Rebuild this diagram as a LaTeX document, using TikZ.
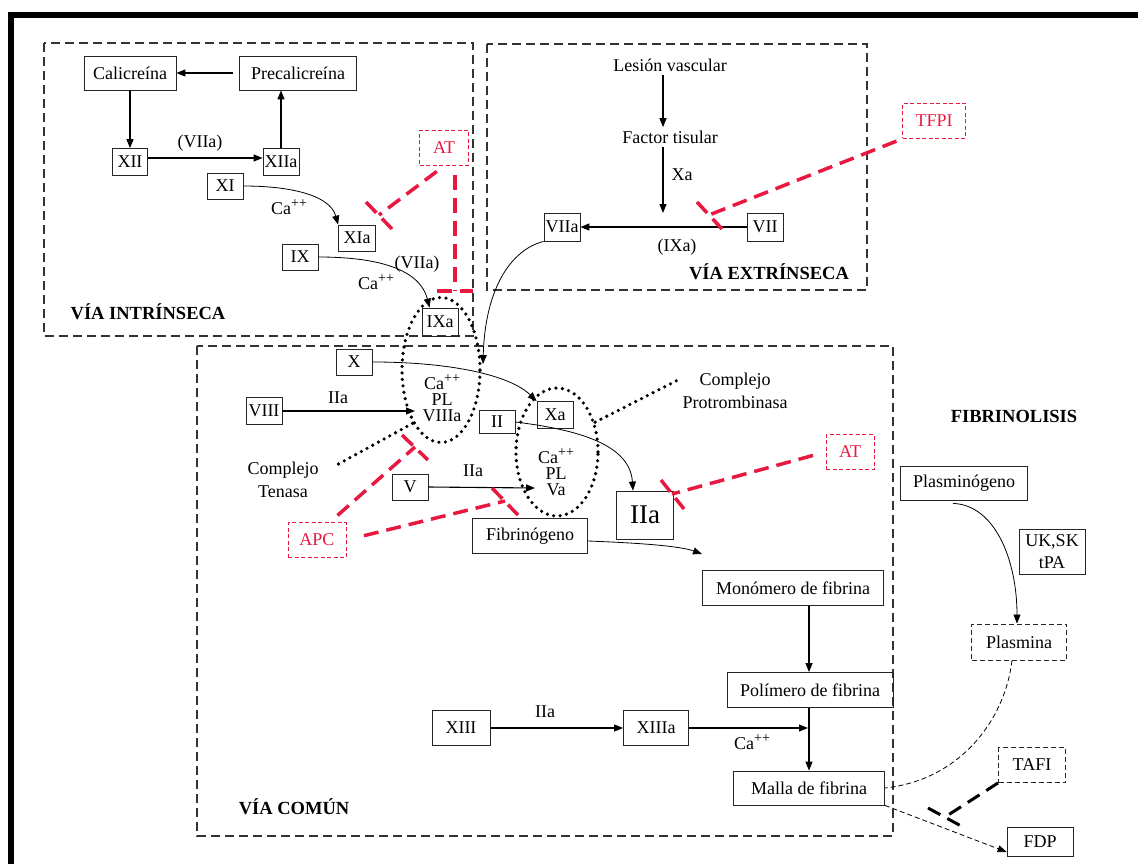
\documentclass[tikz,border=0pt]{standalone}
\usepackage{fontspec}
\setmainfont{Liberation Serif}
\usetikzlibrary{arrows.meta,shapes.geometric}
\definecolor{inhibred}{RGB}{232,24,64}
\newcommand{\calcium}{Ca\raisebox{0.42em}{\fontsize{14}{14}\selectfont ++}}

\begin{document}
\begin{tikzpicture}[
        x=1pt,
        y=-1pt,
        every node/.style={font=\fontsize{18}{23}\selectfont},
        box/.style={draw=black!85, line width=0.8pt, inner sep=0pt, minimum width=36, minimum height=26},
        redbox/.style={draw=inhibred, text=inhibred, dash pattern=on 4pt off 2.5pt, line width=0.9pt, inner sep=0pt},
        blkdash/.style={draw=black!85, dash pattern=on 5pt off 3pt, line width=0.9pt, inner sep=0pt},
        region/.style={draw=black!80, line width=1.2pt, dash pattern=on 9pt off 5pt},
        pathlabel/.style={font=\fontsize{18.5}{23}\selectfont\bfseries},
        arr/.style={-{Triangle[length=9pt,width=7pt]}, line width=1.1pt},
        carr/.style={-{Triangle[length=9pt,width=7pt]}, line width=0.8pt},
        thindash/.style={line width=0.8pt, dash pattern=on 5pt off 3pt},
        inhib/.style={draw=inhibred, line width=3.5pt, dash pattern=on 15pt off 8pt},
        tafiinhib/.style={draw=black, line width=3pt, dash pattern=on 14pt off 8pt},
        cplx/.style={draw, ellipse, line width=3.6pt, dash pattern=on 0pt off 6.5pt, line cap=round, inner sep=0pt},
        dotline/.style={line width=3.6pt, dash pattern=on 0pt off 6.5pt, line cap=round},
        stack/.style={align=center, font=\fontsize{18}{16}\selectfont}
    ]
        \useasboundingbox (0,0) rectangle (1138,864);

        % Frame
        \fill (8,12) rectangle (1138,18);
        \fill (8,12) rectangle (14,864);

        % Pathway regions
        \draw[region] (44,43) rectangle (473,336);
        \draw[region] (487,44) rectangle (867,290);
        \draw[region] (197,346) rectangle (893,836);

        % Intrinsic pathway
        \node[box, minimum width=92, minimum height=34] (cal) at (130,73) {Calicreína};
        \node[box, minimum width=117, minimum height=34] (precal) at (298,73) {Precalicreína};
        \node[box, minimum width=35, minimum height=27] (xii) at (130,162) {XII};
        \node[box, minimum height=27] (xiia) at (281,162) {XIIa};
        \node[box] (xi) at (225,186) {XI};
        \node[box, minimum width=37] (xia) at (357,238) {XIa};
        \node[box] (ix) at (300,257) {IX};
        \node[box, minimum height=28] (ixa) at (440,322) {IXa};
        \node[redbox, minimum width=49, minimum height=35] (at1) at (444,148) {AT};
        \node (viia-lbl1) at (200,143) {(VIIa)};
        \node (ca-lbl1) at (289,207) {\calcium};
        \node (viia-lbl2) at (417,264) {(VIIa)};
        \node (ca-lbl2) at (376,282) {\calcium};
        \node[pathlabel] (intr-lbl) at (148,312) {VÍA INTRÍNSECA};

        \draw[arr] ([xshift=-6]precal.west) -- (cal.east);
        \draw[arr] (cal.south) -- (xii.north);
        \draw[arr] ([yshift=4]xii.east) -- ([yshift=4]xiia.west);
        \draw[arr] (xiia.north) -- (xiia.north |- precal.south);
        \draw[carr] (xi.east) .. controls (290,186) and (330,195) .. (xia.north west);
        \draw[carr] (ix.east) .. controls (380,257) and (420,270) .. ([xshift=8]ixa.north west);

        % Extrinsic pathway
        \node (lesion) at (670,65) {Lesión vascular};
        \node (factor) at (670,137) {Factor tisular};
        \coordinate (tf-tip) at (663,213);
        \node (xa-lbl) at (682,175) {Xa};
        \node[box, minimum height=28] (viia) at (562,227) {VIIa};
        \node[box, minimum height=28] (vii) at (765,227) {VII};
        \node (ixa-lbl) at (677,247) {(IXa)};
        \node[pathlabel] (extr-lbl) at (769,272) {VÍA EXTRÍNSECA};
        \node[redbox, minimum width=63, minimum height=35] (tfpi) at (934,121) {TFPI};

        \draw[arr] (lesion.south -| tf-tip) -- (factor.north -| tf-tip);
        \draw[arr] (factor.south -| tf-tip) -- (tf-tip);
        \draw[arr] (vii.west) -- (viia.east);

        % Common pathway
        \node[box] (fx) at (354,362) {X};
        \node[box, minimum height=27] (viii) at (264,411) {VIII};
        \node[box, minimum height=23] (ii) at (497,422) {II};
        \node[box, minimum height=27] (xa) at (555,415) {Xa};
        \node[box, minimum height=26] (v) at (410,487) {V};
        \node[box, minimum width=57, minimum height=48, font=\fontsize{27}{30}\selectfont] (iia) at (645,515) {IIa};
        \node[cplx, minimum width=78, minimum height=145] (tenasa) at (441,370) {};
        \node[stack] (tenasa-txt) at (442,398) {\calcium\\PL\\VIIIa};
        \node[cplx, minimum width=82, minimum height=128] (protro) at (557,452) {};
        \node[stack] (protro-txt) at (556,472) {\calcium\\PL\\Va};
        \node[align=center] (tenasa-lbl) at (283,480) {Complejo\\Tenasa};
        \node[align=center] (protro-lbl) at (735,391) {Complejo\\Protrombinasa};
        \coordinate (tenasa-end) at (333,467);
        \coordinate (protro-end) at (678,380);
        \node (iia-lbl1) at (338,398) {IIa};
        \node (iia-lbl2) at (473,471) {IIa};
        \node[box, minimum width=115, minimum height=35] (fibrinog) at (530,536) {Fibrinógeno};
        \node[redbox, minimum width=58, minimum height=35] (apc) at (317,540) {APC};
        \node[redbox, minimum width=48, minimum height=35] (at2) at (850,452) {AT};
        \node[box, minimum width=181, minimum height=35] (monomero) at (793,588) {Monómero de fibrina};
        \node[box, minimum width=166, minimum height=35] (polimero) at (810,690) {Polímero de fibrina};
        \node[box, minimum width=151, minimum height=34] (malla) at (809,788) {Malla de fibrina};
        \node[box, minimum width=58, minimum height=35] (xiii) at (461,728) {XIII};
        \node[box, minimum width=65, minimum height=35] (xiiia) at (656,728) {XIIIa};
        \node (iia-lbl3) at (545,712) {IIa};
        \node (ca-lbl3) at (752,742) {\calcium};
        \node[pathlabel] (comun-lbl) at (294,807) {VÍA COMÚN};
        \coordinate (viia-tip) at (483,364);
        \coordinate (viii-tip) at (415,411);
        \coordinate (v-tip) at (535,488);
        \coordinate (fib-tip) at (702,554);
        \coordinate (xiiia-tip) at (808,728);

        \draw[dotline] (tenasa.242) -- (tenasa-end);
        \draw[dotline] (protro.38) -- (protro-end);
        \draw[carr] (viia.south west) .. controls (510,250) and (485,290) .. (viia-tip);
        \draw[carr] (fx.east) .. controls (450,362) and (510,375) .. (xa.north west);
        \draw[arr] (viii.east) -- (viii-tip);
        \draw[carr] (ii.east) .. controls (580,430) and (630,445) .. ([xshift=-12]iia.north);
        \draw[arr] (v.east) -- (v-tip);
        \draw[carr] ([yshift=-5]fibrinog.east) .. controls (640,543) and (680,546) .. (fib-tip);
        \draw[arr] (monomero.south -| malla) -- (polimero.north -| malla);
        \draw[arr] (polimero.south -| malla) -- (malla.north);
        \draw[arr] (xiii.east) -- (xiiia.west);
        \draw[arr] (xiiia.east) -- (xiiia-tip);

        % Fibrinolysis
        \node[pathlabel] (fibrinol-lbl) at (1014,416) {FIBRINOLISIS};
        \node[box, minimum width=127, minimum height=34] (plasminog) at (964,483) {Plasminógeno};
        \node[box, minimum width=66, minimum height=45, align=center, font=\fontsize{18}{22}\selectfont] (uksk) at (1052,552) {UK,SK\\tPA};
        \node[blkdash, minimum width=95, minimum height=36] (plasmina) at (1019,642) {Plasmina};
        \node[blkdash, minimum width=67, minimum height=35] (tafi) at (1032,765) {TAFI};
        \node[box, minimum width=66, minimum height=29] (fdp) at (1040,842) {FDP};

        \draw[carr] ([xshift=-11,yshift=-3]plasminog.south) .. controls (995,505) and (1017,560) .. ([xshift=-2]plasmina.north);
        \draw[thindash] ([xshift=-7]plasmina.south) .. controls (1005,720) and (960,780) .. (malla.east);
        \draw[thindash, -{Triangle[length=9pt,width=7pt]}] (malla.south east) -- ([yshift=-10]fdp.west);

        % Inhibitors
        \coordinate (at1-end) at (379,215);
        \coordinate (at1-bar1) at (366,202);
        \coordinate (at1-bar2) at (392,229);
        \coordinate (at1-vend) at (455,291);
        \coordinate (at1-vbar1) at (437,291);
        \coordinate (at1-vbar2) at (473,291);
        \coordinate (tfpi-end) at (709,215);
        \coordinate (tfpi-bar1) at (697,202);
        \coordinate (tfpi-bar2) at (722,229);
        \coordinate (apc-end1) at (415,447);
        \coordinate (apc-bar1) at (402,435);
        \coordinate (apc-bar2) at (428,460);
        \coordinate (apc-end2) at (505,501);
        \coordinate (apc-bar3) at (492,488);
        \coordinate (apc-bar4) at (518,515);
        \coordinate (at2-end) at (672,494);
        \coordinate (at2-bar1) at (661,480);
        \coordinate (at2-bar2) at (684,509);
        \coordinate (tafi-end) at (945,817);
        \coordinate (tafi-bar1) at (928,808);
        \coordinate (tafi-bar2) at (963,827);

        \draw[inhib, shorten <=9pt] (at1.south) -- (at1-end);
        \draw[inhib] (at1-bar1) -- (at1-bar2);
        \draw[inhib, shorten <=9pt] ([xshift=11]at1.south) -- (at1-vend);
        \draw[inhib] (at1-vbar1) -- (at1-vbar2);
        \draw[inhib, shorten <=6pt] (tfpi.south west) -- (tfpi-end);
        \draw[inhib] (tfpi-bar1) -- (tfpi-bar2);
        \draw[inhib, shorten <=10pt] ([xshift=13]apc.north) -- (apc-end1);
        \draw[inhib] (apc-bar1) -- (apc-bar2);
        \draw[inhib, shorten <=18pt] (apc.east) -- (apc-end2);
        \draw[inhib] (apc-bar3) -- (apc-bar4);
        \draw[inhib, shorten <=13pt] (at2.west) -- (at2-end);
        \draw[inhib] (at2-bar1) -- (at2-bar2);
        \draw[tafiinhib] (tafi.south west) -- (tafi-end);
        \draw[tafiinhib] (tafi-bar1) -- (tafi-bar2);
    \end{tikzpicture}
\end{document}
